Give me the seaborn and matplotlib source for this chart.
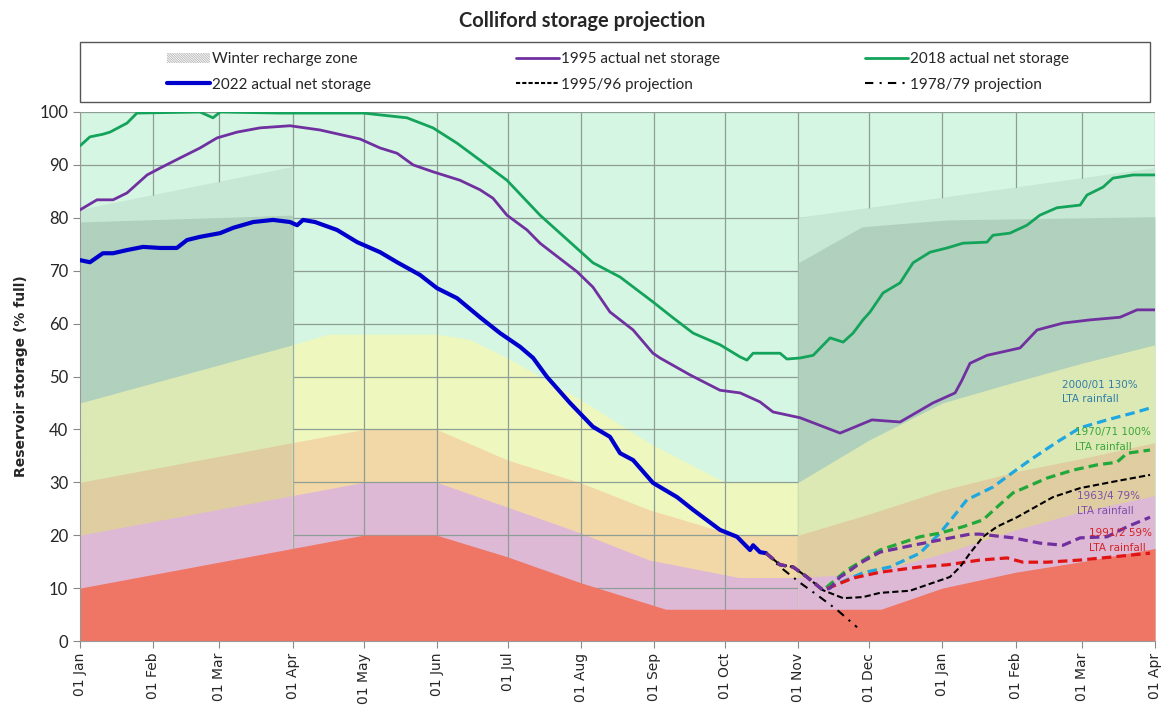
import matplotlib
matplotlib.use("Agg")
import matplotlib.pyplot as plt
import matplotlib.dates as mdates
from matplotlib.patches import Patch, Rectangle
from matplotlib.lines import Line2D
import seaborn as sns
import pandas as pd

# x values are days since 01 Jan 2022, y values are % full
# ---- background zones (top edge of each band) ----
red_days = [0, 120, 151, 181, 212, 248, 339, 365, 396, 424, 455]
red_top = [10, 20, 20, 15.9, 11, 6, 6, 10, 13, 15, 17.5]
pink_days = [0, 120, 151, 181, 212, 241, 279, 304, 334, 365, 396, 424, 455]
pink_top = [20, 30, 30, 25.3, 20.4, 15.3, 12, 12, 12.8, 16.5, 21, 24.5, 27.5]
orange_days = [0, 120, 151, 181, 212, 241, 277, 304, 334, 365, 396, 424, 455]
orange_top = [30, 40, 40, 34.2, 29.9, 24.8, 20, 20, 24, 28.5, 32, 34.5, 37.5]
yellow_days = [0, 90, 105, 151, 165, 181, 212, 241, 273, 304, 334, 365, 396, 424, 455]
yellow_top = [45, 56, 58, 58, 57, 53.5, 45.6, 37.4, 30, 30, 38, 45, 49, 52.5, 56]

# winter recharge zone: hatched top and darker inner zone
winter1_days = [0, 90]
winter1_top = [81.5, 89.6]
winter1_dark_days = [0, 90]
winter1_dark = [79.2, 80.5]
winter2_days = [304, 455]
winter2_top = [80, 89.4]
winter2_dark_days = [304, 331, 367, 455]
winter2_dark = [71.5, 78.3, 79.6, 80.2]

# ---- actual net storage ----
s2018_days = [0, 4.2, 9.7, 12.7, 19.9, 24.1, 50.8, 56.3, 59.3, 84.7, 119.8, 138.4, 149.4,
              159.6, 169.3, 180.7, 194.7, 207.4, 217.1, 228.6, 242.5, 251, 259.5, 270.9,
              279.4, 282.3, 284.9, 296.3, 299.2, 304.8, 310.3, 317.5, 323, 327.2, 331.4,
              334.4, 339.9, 347.1, 352.6, 359.8, 367, 373.7, 383.9, 386.4, 393.6, 400.8,
              406.3, 413.5, 423.3, 426.2, 433, 437.2, 445.7, 455]
s2018 = [93.6, 95.3, 95.8, 96.2, 97.9, 99.8, 100, 98.9, 100, 99.8, 99.8, 98.9, 97,
         94.1, 90.9, 87.1, 80.5, 75.4, 71.5, 68.8, 64.1, 61.1, 58.2, 56,
         53.7, 53.1, 54.4, 54.4, 53.3, 53.5, 54, 57.3, 56.5, 58.2, 60.7,
         62.2, 65.8, 67.7, 71.5, 73.5, 74.3, 75.2, 75.4, 76.7, 77.1, 78.6,
         80.5, 81.9, 82.4, 84.3, 85.8, 87.5, 88.1, 88.1]

s1995_days = [0, 7.2, 14, 19.9, 28.4, 33.9, 42.3, 50.8, 58, 66.5, 76.2, 88.9, 101.6,
              118.5, 127, 134.2, 141, 149.4, 160.8, 169.3, 174.8, 180.7, 189.2, 194.7,
              200.2, 210.4, 217.1, 224.3, 234.1, 242.5, 245.5, 258.2, 270.9, 279.4,
              287.8, 293.3, 304.8, 321.7, 335.2, 347.1, 361, 370.4, 373.3, 376.7,
              383.9, 397.9, 405.1, 416.1, 427.5, 440.2, 447.4, 455]
s1995 = [81.5, 83.4, 83.4, 84.7, 88.1, 89.4, 91.3, 93.2, 95.1, 96.2, 97, 97.4, 96.6,
         94.9, 93.2, 92.2, 90, 88.7, 87.1, 85.3, 83.7, 80.5, 77.7, 75.2,
         73.3, 69.8, 66.9, 62.2, 58.8, 54.4, 53.5, 50.3, 47.4, 46.9,
         45.2, 43.3, 42.2, 39.3, 41.8, 41.4, 45, 46.9, 49.3, 52.5,
         54, 55.4, 58.8, 60.1, 60.7, 61.2, 62.6, 62.6]

s2022_days = [0, 4.2, 9.7, 14, 19.9, 26.7, 33.9, 41, 45.3, 50.8, 59.3, 64.8, 73.3, 81.7,
              88.9, 91.9, 94.4, 99.5, 108.8, 117.3, 127, 134.2, 143.9, 151.1, 159.6,
              169.3, 177.8, 186.3, 191.8, 197.7, 207.4, 217.1, 224.3, 228.6, 234.1,
              242.5, 252.7, 259.5, 270.9, 278.1, 283.6, 284.9, 287.8, 290.4]
s2022 = [72, 71.6, 73.3, 73.3, 73.9, 74.5, 74.3, 74.3, 75.8, 76.4, 77.1, 78.1, 79.2, 79.6,
         79.2, 78.6, 79.6, 79.2, 77.7, 75.4, 73.5, 71.6, 69.2, 66.7, 64.8,
         61.2, 58.2, 55.6, 53.5, 49.9, 45, 40.5, 38.6, 35.5, 34.2,
         29.9, 27.2, 24.8, 21, 19.7, 17.2, 18.1, 16.8, 16.6]

# ---- projections ----
p1963_days = [290.4, 296.3, 301.8, 307.7, 314.5, 317.5, 321.7, 324.6, 330.1, 338.6, 352.6,
              364, 376.7, 380.9, 394.9, 406.3, 416.1, 423.3, 434.7, 443.2, 452.9]
p1963 = [16.6, 14.4, 14, 12.1, 9.6, 10, 12.1, 12.9, 14.7, 16.8, 18.1,
         19.1, 20.2, 20.2, 19.5, 18.5, 18.1, 19.5, 19.7, 21.6, 23.4]
p2000_days = [290.4, 296.3, 301.8, 307.7, 314.5, 331.4, 342.8, 355.5, 364, 369.5, 375.4,
              386.4, 394.9, 402.1, 413.5, 423.3, 434.7, 445.7, 454.2]
p2000 = [16.6, 14.4, 14, 12.1, 9.6, 12.9, 14, 16.6, 20.4, 23.4, 26.7,
         29.1, 31.9, 34.2, 37.6, 40.3, 41.8, 43.1, 44.2]
p1970_days = [290.4, 296.3, 301.8, 307.7, 314.5, 324.6, 338.6, 355.5, 364, 373.7, 382.2,
              388.1, 394.9, 409.3, 420.3, 430.5, 438.9, 443.2, 452.9]
p1970 = [16.6, 14.4, 14, 12.1, 9.6, 13.4, 17.2, 19.7, 20.4, 21.6, 22.9,
         25.3, 28, 30.8, 32.3, 33.3, 33.8, 35.5, 36.1]
p1991_days = [290.4, 296.3, 301.8, 307.7, 314.5, 327.2, 338.6, 355.5, 367, 380.9, 392.4,
              399.1, 409.3, 423.3, 437.2, 452.9]
p1991 = [16.6, 14.4, 14, 12.1, 9.6, 11.9, 13, 14, 14.4, 15.3, 15.7,
         14.9, 14.9, 15.3, 15.9, 16.6]
p1995_days = [290.4, 296.3, 301.8, 307.7, 314.5, 323, 331.4, 338.6, 351.3, 361, 368.2,
              372.5, 376.7, 382.2, 388.1, 396.6, 403.4, 411.8, 423.3, 437.2, 452.9]
p1995 = [16.6, 14.4, 14, 12.1, 9.6, 8.1, 8.3, 9.1, 9.5, 11, 12.1,
         14, 16.6, 19.7, 21.6, 23.4, 25.1, 27.2, 28.9, 30.1, 31.4]
p1978_days = [290.4, 296.3, 304.8, 313.2, 320.4, 328.9]
p1978 = [16.6, 14, 11, 8.3, 5.9, 2.6]

labels_text = ["2000/01 130%\nLTA rainfall", "1970/71 100%\nLTA rainfall",
               "1963/4 79%\nLTA rainfall", "1991/2 59%\nLTA rainfall"]
labels_day = [415.6, 421, 422, 427]
labels_y = [49.4, 40.4, 28.3, 21.4]
labels_col = ["#2E7FA6", "#3AA63A", "#7D4FA8", "#D42222"]

base = pd.Timestamp("2022-01-01")


def to_dates(days):
    return base + pd.to_timedelta(days, unit="D")


sns.set_style("white")
plt.rcParams["hatch.linewidth"] = 0.6

MINT, DARK, YELLOW, ORANGE, PINK, RED = "#D5F6E2", "#BBDBC7", "#EEF8BE", "#F2D8A6", "#DEB9D6", "#EF7565"

fig = plt.figure(figsize=(11.65, 7.11), dpi=100)
ax = fig.add_axes([80 / 1165, 70 / 711, 1075 / 1165, 529 / 711])

bands = [(yellow_days, yellow_top, YELLOW), (orange_days, orange_top, ORANGE)]

# summer bands, under the grid
ax.fill_between(to_dates([0, 455]), 0, 100, color=MINT, lw=0, zorder=0.1)
for d, t, c in bands + [(pink_days, pink_top, PINK)]:
    ax.fill_between(to_dates(d), 0, t, color=c, lw=0, zorder=0.2)

ax.grid(True, color="#8E9E96", lw=0.9)
ax.set_axisbelow(True)
for gl in ax.get_xgridlines() + ax.get_ygridlines():
    gl.set_zorder(0.5)

# winter recharge zones, painted over the grid
hatch = "\\" * 20
winters = [(winter1_days, winter1_top, winter1_dark_days, winter1_dark),
           (winter2_days, winter2_top, winter2_dark_days, winter2_dark)]
for wd, wt, dd, dv in winters:
    base_poly = ax.fill_between(to_dates(wd), 0, wt, color=MINT, lw=0, zorder=0.6)
    clip = base_poly.get_paths()[0]
    ax.fill_between(to_dates(dd), 0, dv, color=DARK, lw=0, zorder=0.61)
    for d, t, c in bands:
        f = ax.fill_between(to_dates(d), 0, t, color=c, lw=0, zorder=0.62)
        f.set_clip_path(clip, ax.transData)
    ax.fill_between(to_dates(wd), 0, wt, facecolor="none", hatch=hatch,
                    edgecolor=(0.45, 0.58, 0.5, 0.2), lw=0, zorder=0.63)
    f = ax.fill_between(to_dates(pink_days), 0, pink_top, color=PINK, lw=0, zorder=0.64)
    f.set_clip_path(clip, ax.transData)

ax.fill_between(to_dates(red_days), 0, red_top, color=RED, lw=0, zorder=0.8)

# lines
sns.lineplot(x=to_dates(s1995_days), y=s1995, ax=ax, color="#7030A0", lw=2.0, zorder=3)
sns.lineplot(x=to_dates(s2018_days), y=s2018, ax=ax, color="#14A35A", lw=2.0, zorder=3)
sns.lineplot(x=to_dates(s2022_days), y=s2022, ax=ax, color="#0000CC", lw=3.0, zorder=3)

dash = (0, (3, 1.6))
sns.lineplot(x=to_dates(p2000_days), y=p2000, ax=ax, color="#1EA7E0", lw=2.3, linestyle=dash, zorder=3)
sns.lineplot(x=to_dates(p1970_days), y=p1970, ax=ax, color="#22A83A", lw=2.3, linestyle=dash, zorder=3)
sns.lineplot(x=to_dates(p1991_days), y=p1991, ax=ax, color="#E01414", lw=2.3, linestyle=dash, zorder=3)
sns.lineplot(x=to_dates(p1995_days), y=p1995, ax=ax, color="black", lw=1.5, linestyle=(0, (3, 1.5)), zorder=3)
sns.lineplot(x=to_dates(p1978_days), y=p1978, ax=ax, color="black", lw=1.5, linestyle=(0, (4, 3, 1, 3)), zorder=3)
sns.lineplot(x=to_dates(p1963_days), y=p1963, ax=ax, color="#7030A0", lw=2.3, linestyle=dash, zorder=3.1)

for txt, d, y, c in zip(labels_text, labels_day, labels_y, labels_col):
    ax.text(to_dates([d])[0], y, txt, color=c, fontsize=7.5, va="top", ha="left",
            linespacing=1.6, zorder=4)

# axes
ax.set_xlim(to_dates([0, 455]))
ax.set_ylim(0, 100)
ax.set_yticks(range(0, 101, 10))
ax.xaxis.set_major_locator(mdates.MonthLocator())
ax.xaxis.set_major_formatter(mdates.DateFormatter("%d %b"))
ax.tick_params(axis="x", rotation=90, labelsize=10, length=5, color="#888888", direction="out")
ax.tick_params(axis="y", length=5, color="#888888", direction="out")
for lab in ax.get_yticklabels():
    lab.set_family("Lato")
    lab.set_fontsize(12)
ax.tick_params(bottom=True, left=True)
ax.set_xlabel("")
ax.set_ylabel("Reservoir storage (% full)", fontsize=10, fontweight="bold", labelpad=8)
for s in ["top", "right"]:
    ax.spines[s].set_visible(False)
for s in ["left", "bottom"]:
    ax.spines[s].set_color("#999999")

fig.suptitle("Colliford storage projection", fontsize=14.5, fontweight="bold",
             family="Lato", y=0.985)

# legend with a full-width frame
fig.patches.append(Rectangle((80 / 1165, 1 - 102 / 711), 1070 / 1165, 60 / 711,
                             transform=fig.transFigure, fill=False, edgecolor="#555555", lw=1.0))
handles = [
    Patch(facecolor="white", hatch="\\" * 14, edgecolor="#B4B4B4", lw=0),
    Line2D([], [], color="#0000CC", lw=3.0),
    Line2D([], [], color="#7030A0", lw=2.0),
    Line2D([], [], color="black", lw=1.5, linestyle=(0, (2, 1))),
    Line2D([], [], color="#14A35A", lw=2.0),
    Line2D([], [], color="black", lw=1.5, linestyle=(0, (4, 3, 1, 3))),
]
labels = ["Winter recharge zone", "2022 actual net storage", "1995 actual net storage",
          "1995/96 projection", "2018 actual net storage", "1978/79 projection"]
fig.legend(handles, labels, loc="center", bbox_to_anchor=(618 / 1165, 1 - 72 / 711),
           ncol=3, frameon=False, prop={"family": "Lato", "size": 11},
           handlelength=2.8, handletextpad=0.15, columnspacing=9.5, labelspacing=0.75)

fig.savefig("out.png", dpi=100)
